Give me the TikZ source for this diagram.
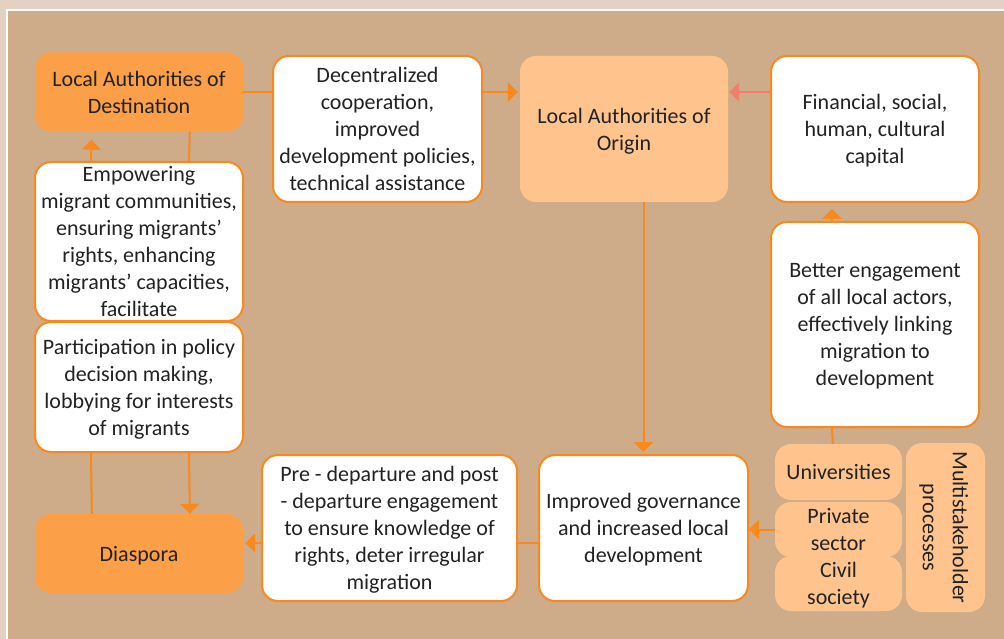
\documentclass[tikz,border=0pt]{standalone}
\usepackage{fontspec}
\setmainfont{Carlito}
\usetikzlibrary{arrows.meta,calc}
\definecolor{outerbg}{HTML}{E3D2C1}
\definecolor{innerbg}{HTML}{CEAC89}
\definecolor{darkor}{HTML}{FB9F48}
\definecolor{lightor}{HTML}{FFC48D}
\definecolor{lineor}{HTML}{F7891F}
\definecolor{salmon}{HTML}{F0806A}
\definecolor{txt}{HTML}{222222}
\tikzset{
  box/.style={rectangle, rounded corners=16pt, inner sep=0pt, align=center,
    text=txt, text depth=0pt, font=\fontsize{22}{27}\selectfont},
  whitebox/.style={box, fill=white, draw=lineor, line width=2pt},
  darkbox/.style={box, fill=darkor},
  lightbox/.style={box, fill=lightor},
  conn/.style={draw=lineor, line width=2pt},
  arr/.style={conn, -{Triangle[length=10pt,width=19pt]}},
}
\begin{document}
\begin{tikzpicture}[x=1pt,y=-1pt]
\useasboundingbox (0,0) rectangle (1004,639);
\fill[outerbg] (0,0) rectangle (1004,639);
\fill[innerbg] (7,10) rectangle (1004,639);
\draw[white, line width=2pt] (7,645) -- (7,10) -- (1010,10);

\node[darkbox, minimum width=208pt, minimum height=79pt] (lad) at (139,92) {Local Authorities of\\Destination};
\node[whitebox, minimum width=209pt, minimum height=146pt] (dec) at (377.5,129) {Decentralized\\cooperation,\\improved\\development policies,\\technical assistance};
\node[lightbox, minimum width=208pt, minimum height=146pt] (lao) at (624,129) {Local Authorities of\\Origin};
\node[whitebox, minimum width=208pt, minimum height=146pt] (fin) at (875,129) {Financial, social,\\human, cultural\\capital};
\node[whitebox, minimum width=208pt, minimum height=205pt] (better) at (875,324.5) {Better engagement\\of all local actors,\\effectively linking\\migration to\\development};
\node[whitebox, minimum width=208pt, minimum height=159pt] (emp) at (139,241.5) {Empowering\\migrant communities,\\ensuring migrants’\\rights, enhancing\\migrants’ capacities,\\facilitate};
\node[whitebox, minimum width=208pt, minimum height=130pt] (part) at (139,387) {Participation in policy\\decision making,\\lobbying for interests\\of migrants};
\node[darkbox, minimum width=208pt, minimum height=79pt] (dia) at (139,553.5) {Diaspora};
\node[whitebox, minimum width=255pt, minimum height=146pt] (pre) at (389.5,528) {Pre - departure and post\\- departure engagement\\to ensure knowledge of\\rights, deter irregular\\migration};
\node[whitebox, minimum width=209pt, minimum height=146pt] (imp) at (643.5,528) {Improved governance\\and increased local\\development};
\node[lightbox, minimum width=127pt, minimum height=56pt] (uni) at (838.5,472) {Universities};
\node[lightbox, minimum width=127pt, minimum height=55pt] (priv) at (838.5,529.5) {Private\\sector};
\node[lightbox, minimum width=127pt, minimum height=55pt] (civ) at (838.5,583.5) {Civil\\society};
\node[lightbox, rotate=-90, minimum width=169pt, minimum height=79pt, font=\fontsize{22}{30}\selectfont] (multi) at (945.5,527.5) {Multistakeholder\\processes};

% connectors
\draw[conn] (lad.east) -- (lad.east -| dec.west);
\draw[arr, shorten >=2pt] (lad.east -| dec.east) -- (lad.east -| lao.west);
\draw[arr, draw=salmon, shorten >=1pt] (lad.east -| fin.west) -- (lad.east -| lao.east);
\draw[arr, shorten >=8pt] ([xshift=57pt]emp.north west) -- ([xshift=57pt]lad.south west);
\draw[conn] ([xshift=155pt]lad.south west) -- ([xshift=155pt]emp.north west);
\draw[conn] ([xshift=57pt]part.south west) -- ([xshift=57pt]dia.north west);
\draw[arr] ([xshift=155pt]part.south west) -- ([xshift=155pt]dia.north west);
\draw[arr, shorten >=2pt] (lao.south -| imp.north) -- (imp.north);
\draw[arr, shorten >=6pt] ([xshift=62pt]better.north west) -- ([xshift=62pt]fin.south west);
\draw[conn] ([xshift=62pt]better.south west) -- ([xshift=58pt]uni.north west);
\draw[arr] (priv.west) -- (priv.west -| imp.east);
\draw[conn] ([yshift=-15pt]imp.west) -- ([yshift=-15pt]imp.west -| pre.east);
\draw[arr, shorten >=2pt] ([yshift=-15pt]pre.west) -- ([yshift=-15pt]pre.west -| dia.east);
\end{tikzpicture}
\end{document}
